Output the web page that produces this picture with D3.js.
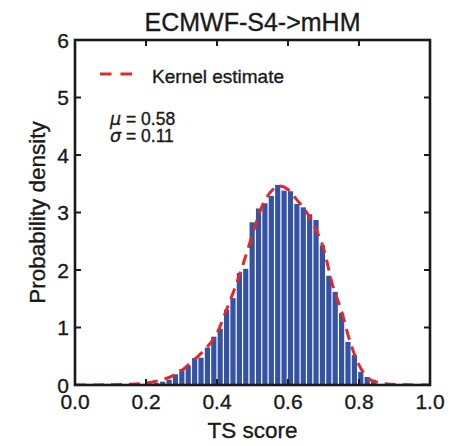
<!DOCTYPE html>
<html>
<head>
<meta charset="utf-8">
<script src="https://cdn.jsdelivr.net/npm/d3@7"></script>
<style>
  body { margin: 0; background: #fff; }
  text { font-family: "Liberation Sans", Arial, sans-serif; fill: #1a1a1a; stroke: #1a1a1a; stroke-width: 0.35px; }
</style>
</head>
<body>
<svg id="chart" width="468" height="446"></svg>
<script>
////////////////////////////////////////////
// DATA
////////////////////////////////////////////

// histogram: first bin edge, bin width, densities
const binStart = 0.202;
const binWidth = 0.018;
const densities = [0.023, 0.035, 0.058, 0.093, 0.186, 0.278, 0.336, 0.47, 0.475, 0.65,
  0.84, 0.98, 1.31, 1.51, 1.95, 2.02, 2.83, 3.07, 3.16, 3.29,
  3.48, 3.38, 3.37, 3.15, 3.09, 2.97, 2.87, 2.43, 1.90, 1.62,
  1.25, 0.75, 0.52, 0.23, 0.14, 0.09];

// kernel estimate curve
const kdeX = [0.0, 0.05, 0.10, 0.15, 0.20, 0.225, 0.25, 0.275, 0.30, 0.325, 0.35, 0.375,
  0.40, 0.425, 0.45, 0.475, 0.50, 0.525, 0.55, 0.575, 0.60, 0.625, 0.65, 0.675,
  0.70, 0.725, 0.75, 0.775, 0.80, 0.825, 0.85, 0.875, 0.90, 0.95, 1.0];
const kdeY = [0.0, 0.001, 0.004, 0.012, 0.035, 0.06, 0.10, 0.16, 0.25, 0.38, 0.52, 0.68,
  0.90, 1.28, 1.68, 2.13, 2.62, 3.08, 3.35, 3.46, 3.40, 3.22, 3.03, 2.75,
  2.38, 1.75, 1.30, 0.75, 0.35, 0.12, 0.05, 0.02, 0.008, 0.002, 0.0];

const xTicks = [0.0, 0.2, 0.4, 0.6, 0.8, 1.0];
const yTicks = [0, 1, 2, 3, 4, 5, 6];
const title = "ECMWF-S4->mHM";
const stats = [["μ", "0.58"], ["σ", "0.11"]];

////////////////////////////////////////////
// LAYOUT
////////////////////////////////////////////

const svg = d3.select("#chart");
const pL = 75, pR = 430, pT = 40, pB = 385;
const barCol = "#3553a5";
const kdeCol = "#dd2a2a";
const axCol = "#1a1a1a";

const x = d3.scaleLinear().domain([0, 1]).range([pL, pR]);
const y = d3.scaleLinear().domain([0, 6]).range([pB, pT]);

svg.append("defs").append("clipPath").attr("id", "plotclip")
  .append("rect")
  .attr("x", pL).attr("y", pT)
  .attr("width", pR - pL).attr("height", pB - pT);

// bars
svg.append("g")
  .selectAll("rect")
  .data(densities)
  .join("rect")
    .attr("x", (d, i) => x(binStart + i * binWidth) + 0.6)
    .attr("width", x(binWidth) - x(0) - 1.2)
    .attr("y", d => y(d))
    .attr("height", d => y(0) - y(d))
    .attr("fill", barCol);

// kernel estimate
const line = d3.line()
  .x(d => x(d[0]))
  .y(d => y(d[1]))
  .curve(d3.curveMonotoneX);

svg.append("path")
  .datum(d3.zip(kdeX, kdeY))
  .attr("clip-path", "url(#plotclip)")
  .attr("fill", "none")
  .attr("stroke", kdeCol)
  .attr("stroke-width", 3)
  .attr("stroke-dasharray", "11,7")
  .attr("d", line);

// frame
svg.append("rect")
  .attr("x", pL).attr("y", pT)
  .attr("width", pR - pL).attr("height", pB - pT)
  .attr("fill", "none")
  .attr("stroke", axCol)
  .attr("stroke-width", 2.6);

// inward ticks on all four sides
const tickLen = 6;
const xInner = xTicks.filter(t => t > 0 && t < 1);
const yInner = yTicks.filter(t => t > 0 && t < 6);
const ticks = svg.append("g").attr("stroke", axCol).attr("stroke-width", 2);
ticks.selectAll("line.xb").data(xInner).join("line").attr("class", "xb")
  .attr("x1", d => x(d)).attr("x2", d => x(d))
  .attr("y1", pB).attr("y2", pB - tickLen);
ticks.selectAll("line.xt").data(xInner).join("line").attr("class", "xt")
  .attr("x1", d => x(d)).attr("x2", d => x(d))
  .attr("y1", pT).attr("y2", pT + tickLen);
ticks.selectAll("line.yl").data(yInner).join("line").attr("class", "yl")
  .attr("y1", d => y(d)).attr("y2", d => y(d))
  .attr("x1", pL).attr("x2", pL + tickLen);
ticks.selectAll("line.yr").data(yInner).join("line").attr("class", "yr")
  .attr("y1", d => y(d)).attr("y2", d => y(d))
  .attr("x1", pR).attr("x2", pR - tickLen);

// tick labels
svg.append("g").selectAll("text")
  .data(xTicks)
  .join("text")
    .attr("x", d => x(d))
    .attr("y", pB + 24)
    .attr("text-anchor", "middle")
    .style("font-size", "21px")
    .text(d => d.toFixed(1));

svg.append("g").selectAll("text")
  .data(yTicks)
  .join("text")
    .attr("x", pL - 6)
    .attr("y", d => y(d))
    .attr("dy", "0.36em")
    .attr("text-anchor", "end")
    .style("font-size", "21px")
    .text(d => d);

// titles
svg.append("text")
  .attr("x", (pL + pR) / 2).attr("y", 31)
  .attr("text-anchor", "middle")
  .style("font-size", "25px")
  .text(title);

svg.append("text")
  .attr("x", (pL + pR) / 2).attr("y", 438)
  .attr("text-anchor", "middle")
  .style("font-size", "22.5px")
  .text("TS score");

svg.append("text")
  .attr("transform", `translate(45,${(pT + pB) / 2}) rotate(-90)`)
  .attr("text-anchor", "middle")
  .style("font-size", "22.5px")
  .text("Probability density");

// legend
svg.append("line")
  .attr("x1", 100).attr("x2", 132)
  .attr("y1", 74).attr("y2", 74)
  .attr("stroke", kdeCol)
  .attr("stroke-width", 3)
  .attr("stroke-dasharray", "11.5,9");
svg.append("text")
  .attr("x", 152).attr("y", 83)
  .style("font-size", "19px")
  .text("Kernel estimate");

// mean / std annotation
const st = svg.append("g").selectAll("text")
  .data(stats)
  .join("text")
    .attr("x", 110)
    .attr("y", (d, i) => 125 + i * 16.7)
    .style("font-size", "17.5px");
st.append("tspan").style("font-style", "italic").style("font-family", "DejaVu Sans").text(d => d[0]);
st.append("tspan").text(d => " = " + d[1]);
</script>
</body>
</html>
